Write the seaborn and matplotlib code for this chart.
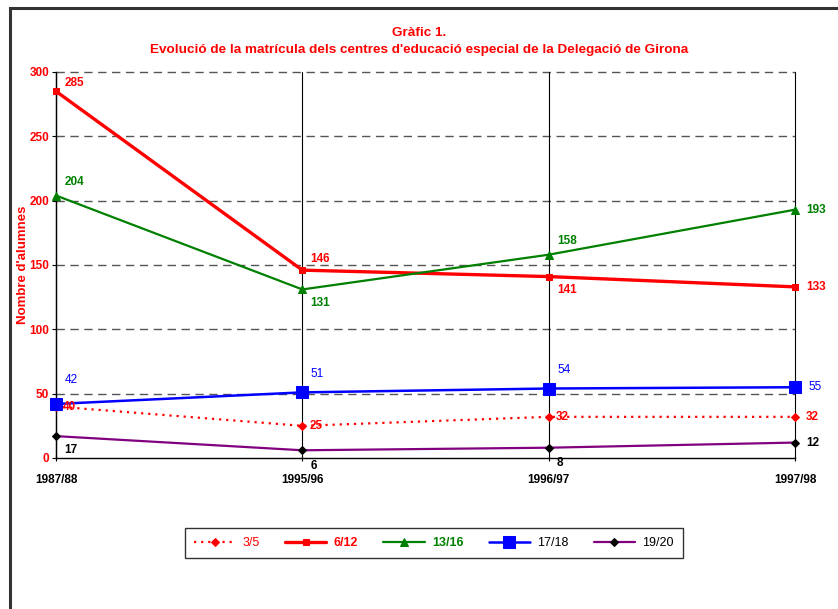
import pandas as pd
import matplotlib.pyplot as plt
import seaborn as sns
from matplotlib.patches import Rectangle

# Dades del gràfic
cursos = ['1987/88', '1995/96', '1996/97', '1997/98']
serie_3_5 = [40, 25, 32, 32]
serie_6_12 = [285, 146, 141, 133]
serie_13_16 = [204, 131, 158, 193]
serie_17_18 = [42, 51, 54, 55]
serie_19_20 = [17, 6, 8, 12]
noms = ['3/5', '6/12', '13/16', '17/18', '19/20']
valors = [serie_3_5, serie_6_12, serie_13_16, serie_17_18, serie_19_20]

df = pd.DataFrame({
    'curs': cursos * len(noms),
    'edat': [n for n in noms for _ in cursos],
    'alumnes': [v for serie in valors for v in serie],
})

sns.set_style("white")
plt.rcParams['font.family'] = ['Liberation Sans Narrow', 'Liberation Sans', 'DejaVu Sans']

# estil de cada serie
estils = {
    '3/5':   dict(color='#FF0000', marker='D', ms=4.5, lw=1.6, ls=(0, (1, 2.2)), mfc='#FF0000', mec='#FF0000'),
    '6/12':  dict(color='#FF0000', marker='s', ms=4.5, lw=2.4, ls='-', mfc='#FF0000', mec='#FF0000'),
    '13/16': dict(color='#008000', marker='^', ms=6, lw=1.6, ls='-', mfc='#008000', mec='#008000'),
    '17/18': dict(color='#0000FF', marker='s', ms=8.5, lw=1.8, ls='-', mfc='#0000FF', mec='#0000FF'),
    '19/20': dict(color='#800080', marker='D', ms=4, lw=1.6, ls='-', mfc='black', mec='black'),
}
# posició i estil de les etiquetes
etiquetes = {
    '3/5':   dict(color='#FF0000', weight='bold', offs=[(5, 0), (5, 0), (5, 0), (8, 0)]),
    '6/12':  dict(color='#FF0000', weight='bold', offs=[(6, 6), (6, 8), (6, -10), (8, 0)]),
    '13/16': dict(color='#008000', weight='bold', offs=[(6, 10), (6, -10), (6, 10), (8, 0)]),
    '17/18': dict(color='#0000FF', weight='normal', offs=[(6, 17), (6, 13), (6, 13), (10, 0)]),
    '19/20': dict(color='black', weight='bold', offs=[(6, -10), (6, -11), (6, -11), (8, 0)]),
}
legend_colors = {'3/5': ('#FF0000', 'normal'), '6/12': ('#FF0000', 'bold'),
                 '13/16': ('#008000', 'bold'), '17/18': ('black', 'normal'),
                 '19/20': ('black', 'normal')}

fig = plt.figure(figsize=(8.38, 6.09), dpi=100)
ax = fig.add_axes([56 / 838, 1 - 458 / 609, (795 - 56) / 838, (458 - 72) / 609])

# marc exterior
fig.patches.append(Rectangle((10 / 838, -0.05), 1.2, 1 - 8 / 609 + 0.05, transform=fig.transFigure,
                             fill=False, edgecolor='#333333', lw=2.2, clip_on=False))

for nom in noms:
    st = estils[nom]
    sns.lineplot(data=df[df['edat'] == nom], x='curs', y='alumnes', ax=ax, label=nom,
                 color=st['color'], marker=st['marker'], markersize=st['ms'], linewidth=st['lw'],
                 linestyle=st['ls'], markerfacecolor=st['mfc'], markeredgecolor=st['mec'],
                 sort=False, zorder=3, clip_on=False)

for nom, serie in zip(noms, valors):
    et = etiquetes[nom]
    for i, v in enumerate(serie):
        ax.annotate(str(v), (i, v), xytext=et['offs'][i], textcoords='offset points',
                    color=et['color'], fontweight=et['weight'], fontsize=8.5, va='center', ha='left',
                    zorder=4)

ax.set_xlim(0, 3)
ax.set_ylim(0, 300)
ax.set_yticks(range(0, 301, 50))
for y in range(50, 301, 50):
    ax.axhline(y, color='#555555', lw=1, ls=(0, (6, 4)), zorder=1, clip_on=False)
for x in range(4):
    ax.axvline(x, color='black', lw=0.8, zorder=1, clip_on=False)

for s in ['top', 'right']:
    ax.spines[s].set_visible(False)
ax.spines['left'].set_color('black')
ax.spines['bottom'].set_color('black')
ax.spines['left'].set_linewidth(1)
ax.spines['bottom'].set_linewidth(1)

ax.tick_params(axis='y', length=3, width=0.8, colors='black', labelcolor='#FF0000', labelsize=8.5, pad=2, left=True)
ax.tick_params(axis='x', length=5, width=0.8, colors='black', labelsize=8.5, pad=9, bottom=True, direction='inout')
for lab in ax.get_yticklabels() + ax.get_xticklabels():
    lab.set_fontweight('bold')

ax.set_xlabel('')
ax.set_ylabel("Nombre d'alumnes", color='#FF0000', fontweight='bold', fontsize=9.5)
ax.yaxis.set_label_coords(-0.037, 0.5)

fig.text(0.5, 1 - 33 / 609, 'Gràfic 1.', ha='center', va='center', color='#FF0000',
         fontweight='bold', fontsize=9.7)
fig.text(0.5, 1 - 50 / 609,
         "Evolució de la matrícula dels centres d'educació especial de la Delegació de Girona",
         ha='center', va='center', color='#FF0000', fontweight='bold', fontsize=9.7)

leg = ax.legend(loc='center', bbox_to_anchor=(434 / 838, 1 - 543 / 609), bbox_transform=fig.transFigure,
                ncol=5, frameon=True, fancybox=False, fontsize=9, handlelength=3.3, columnspacing=2.0,
                borderpad=0.7, handletextpad=0.6)
leg.get_frame().set_edgecolor('black')
leg.get_frame().set_linewidth(1)
for txt in leg.get_texts():
    c, w = legend_colors[txt.get_text()]
    txt.set_color(c)
    txt.set_fontweight(w)

fig.savefig('out.png', dpi=100)
